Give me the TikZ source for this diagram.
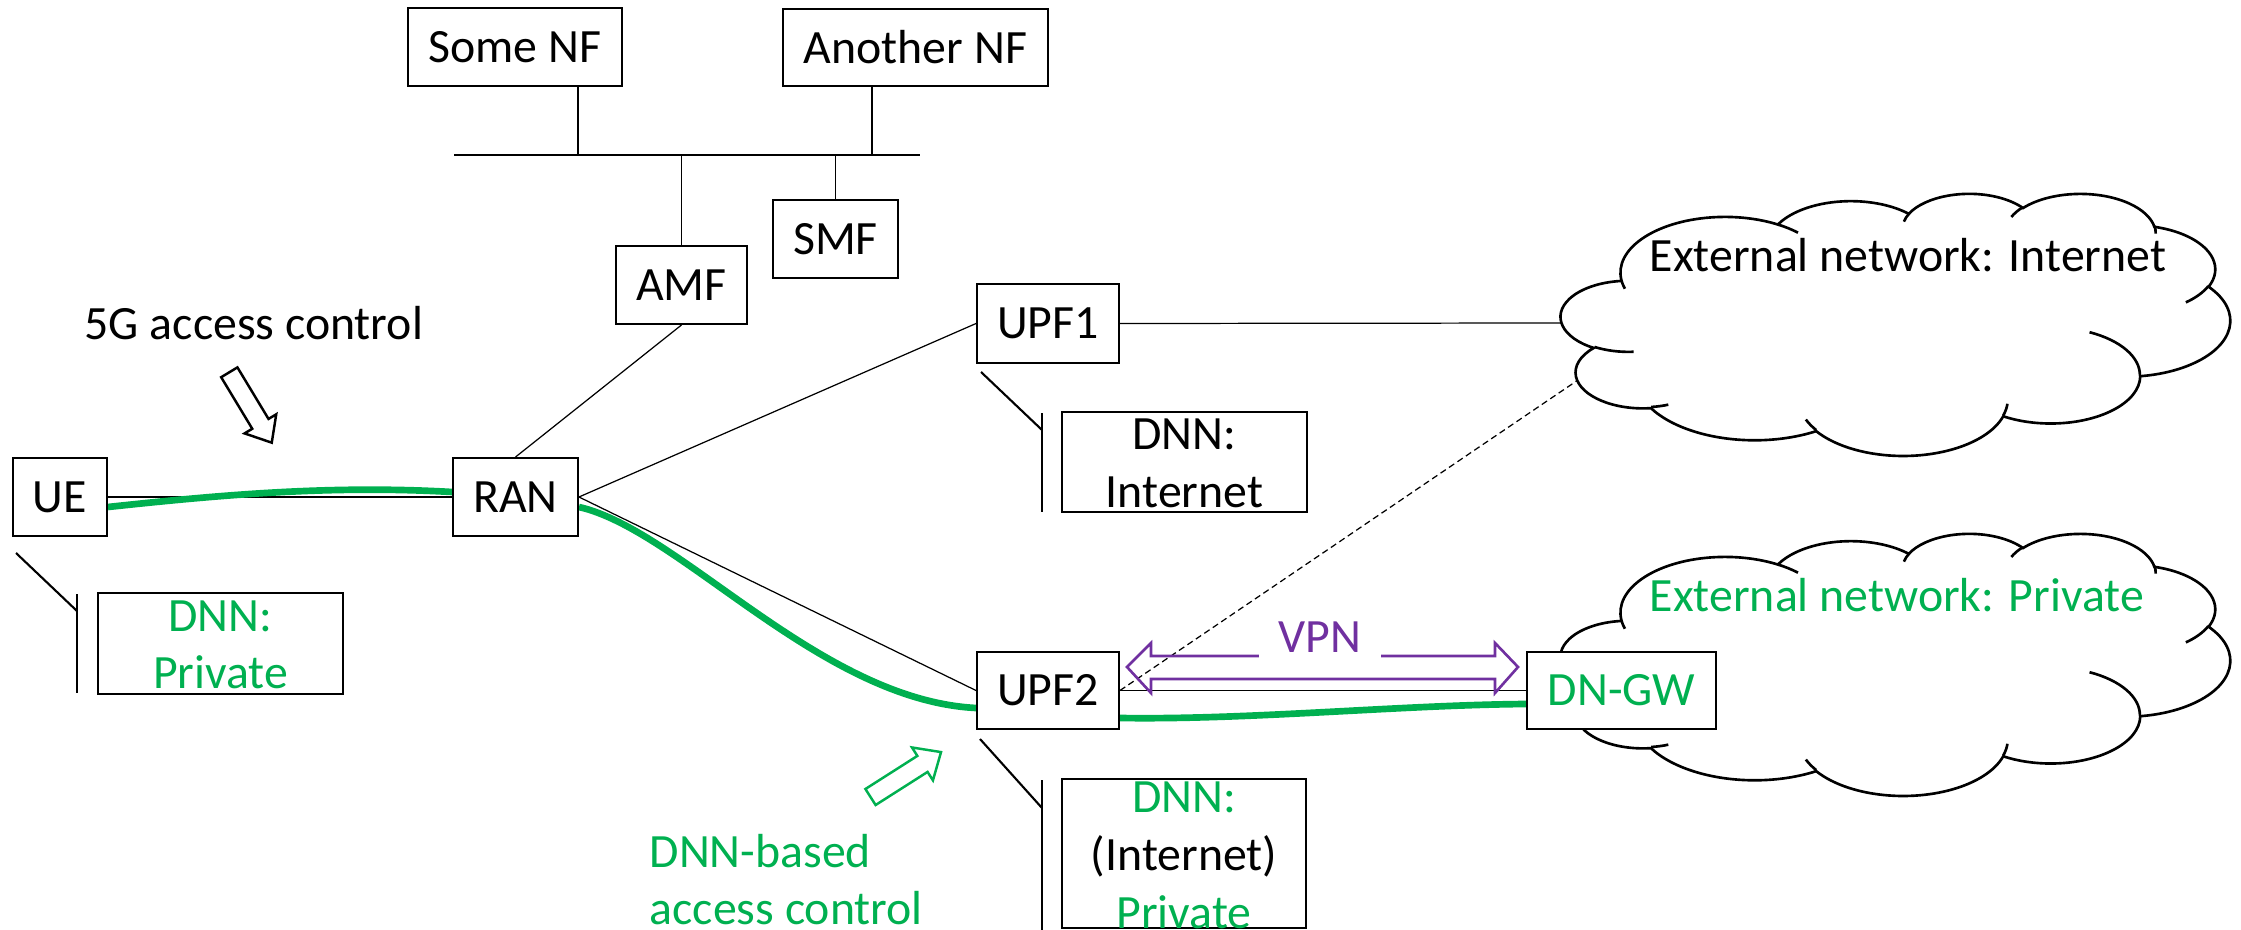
\documentclass[tikz,border=0pt]{standalone}
\usepackage{fontspec}
\setmainfont{Carlito}
\usetikzlibrary{calc}
\definecolor{gr}{HTML}{00B050}
\definecolor{pu}{HTML}{7030A0}
\newcommand\dfont{\fontsize{13.6pt}{16.3pt}\selectfont}
\pgfdeclarelayer{bg}
\pgfsetlayers{bg,main}

\tikzset{
  box/.style={draw, line width=0.55pt, fill=white, inner sep=0pt, minimum height=0.78cm},
  dnnbox/.style={draw, line width=0.75pt, fill=white, inner sep=0pt},
  txt/.style={inner sep=0pt, anchor=base},
  link/.style={line width=0.35pt},
  greenpath/.style={draw=gr, line width=1.9pt},
  antline/.style={line width=0.6pt},
  cloudline/.style={line width=0.75pt},
  blockarrow/.style={line width=0.7pt, fill=white},
}

% Cloud outline: elliptical arcs in a 43.2 x 43.2 frame (y downwards),
% each arc given by radii, visual start angle and sweep.
\newcommand\drawcloud[1]{%
\begin{scope}[shift={#1}, xscale=0.154861, yscale=-0.060648]
  \filldraw[cloudline, fill=white] (3.9,14.37)
    \foreach \w/\h/\s/\d in {6.753/9.190/-190.4875/123.7805,
        5.333/7.267/-144.1024/89.9452, 4.365/5.945/-145.8079/99.7230,
        4.857/6.595/-130.9861/117.2417, 5.333/7.273/-78.7089/109.0269,
        6.775/9.220/-46.2673/130.2690, 5.785/7.867/0.6250/114.0333,
        6.752/9.215/22.4516/115.1726, 7.720/10.543/66.2426/75.7110,
        4.360/5.918/-274.9421/146.7356, 4.345/5.945/-246.8285/152.5189}
    { arc[start angle={atan2(\w*sin(\s),\h*cos(\s))},
          delta angle={mod(atan2(\w*sin(\s+\d),\h*cos(\s+\d))-atan2(\w*sin(\s),\h*cos(\s))+720,360)},
          x radius=\w, y radius=\h] } -- cycle;
  \draw[cloudline]
    \foreach \px/\py/\w/\h/\s/\d in {4.693/26.177/4.345/5.945/86.7420/26.4295,
        6.928/34.899/4.360/5.918/73.6105/11.4475,
        16.478/39.090/6.752/9.215/137.6242/14.0811,
        28.827/34.751/6.752/9.215/6.4533/15.9984,
        34.129/22.954/5.785/7.867/-70.2924/70.9174,
        41.798/15.354/5.333/7.273/30.3180/27.7515,
        38.324/5.426/4.857/6.595/-13.7443/14.8589,
        29.078/3.952/4.857/6.595/-149.1815/18.1954,
        22.141/4.720/4.365/5.945/-163.4943/17.6864,
        14.000/5.192/6.753/9.190/-66.7070/12.3194,
        4.127/15.789/6.753/9.190/-202.4257/11.8600}
    { (\px,\py) arc[start angle={atan2(\w*sin(\s),\h*cos(\s))},
          delta angle={mod(atan2(\w*sin(\s+\d),\h*cos(\s+\d))-atan2(\w*sin(\s),\h*cos(\s))+720,360)},
          x radius=\w, y radius=\h] };
\end{scope}}

\begin{document}
\begin{tikzpicture}[font=\dfont]
\useasboundingbox (0,0) rectangle (22.41,-9.30);

% control plane functions and service bus
\node[box, minimum width=2.14cm] (somenf) at (5.15,-0.47) {Some NF};
\node[box, minimum width=2.65cm, minimum height=0.77cm] (anothernf) at (9.155,-0.475) {Another NF};
\node[box, minimum width=1.31cm] (amf) at (6.815,-2.85) {AMF};
\node[box, minimum width=1.25cm] (smf) at (8.355,-2.39) {SMF};
\coordinate (busL) at (4.54,-1.55);
\coordinate (busR) at (9.20,-1.55);
\coordinate (busA) at (5.78,-1.55);
\coordinate (busB) at (8.72,-1.55);

% user plane
\node[box, minimum width=0.94cm] (ue) at (0.60,-4.97) {UE};
\node[box, minimum width=1.25cm] (ran) at (5.155,-4.97) {RAN};
\node[box, minimum width=1.42cm, minimum height=0.79cm] (upf1) at (10.48,-3.235) {UPF1};
\node[box, minimum width=1.42cm, minimum height=0.77cm] (upf2) at (10.48,-6.905) {UPF2};

% external networks
\drawcloud{(15.61,-1.93)}
\node[txt, anchor=base west] (inettxt) at (16.49,-2.72) {External network: Internet};
\coordinate (c1w) at (15.615,-3.23);
\coordinate (c1sw) at (15.78,-3.80);
\drawcloud{(15.61,-5.33)}
\node[txt, anchor=base west, text=gr] (privtxt) at (16.49,-6.11) {External network: Private};
\node[box, minimum width=1.89cm, minimum height=0.77cm, text=gr] (dngw) at (16.215,-6.905) {DN-GW};

% DNN annotations
\node[dnnbox, minimum width=2.45cm, minimum height=1.01cm] (dnn1) at (2.205,-6.435) {};
\node[txt, text=gr] (dnn1a) at (2.205,-6.31) {DNN:};
\node[txt, text=gr] (dnn1b) at (2.205,-6.88) {Private};
\draw[antline] (0.16,-5.53) -- (0.77,-6.11);
\draw[antline] (0.77,-5.94) -- (0.77,-6.93);

\node[dnnbox, minimum width=2.45cm, minimum height=1.00cm] (dnn2) at (11.845,-4.62) {};
\node[txt] (dnn2a) at (11.845,-4.49) {DNN:};
\node[txt] (dnn2b) at (11.845,-5.07) {Internet};
\draw[antline] (9.81,-3.72) -- (10.42,-4.30);
\draw[antline] (10.42,-4.13) -- (10.42,-5.12);

\node[dnnbox, minimum width=2.44cm, minimum height=1.49cm] (dnn3) at (11.84,-8.535) {};
\node[txt, text=gr] (dnn3a) at (11.84,-8.12) {DNN:};
\node[txt] (dnn3b) at (11.84,-8.70) {(Internet)};
\node[txt, text=gr] (dnn3c) at (11.84,-9.28) {Private};
\draw[antline] (9.80,-7.39) -- (10.42,-8.08);
\draw[antline] (10.42,-7.80) -- (10.42,-9.30);

% connectors
\begin{pgfonlayer}{bg}
\draw[link] (busL) -- (busR);
\draw[link] (somenf.south -| busA) -- (busA);
\draw[link] (anothernf.south -| busB) -- (busB);
\draw[link] (amf.north) -- (amf.north |- busL);
\draw[link] (smf.north) -- (smf.north |- busL);
\draw[link] (ue.east) -- (ran.west);
\draw[link] (amf.south) -- (ran.north);
\draw[link] (ran.east) -- (upf1.west);
\draw[link] (ran.east) -- (upf2.west);
\draw[link] (upf1.east) -- (c1w);
\draw[link] (upf2.east) -- (dngw.west);
\draw[link, dash pattern=on 1.8pt off 1.1pt] (upf2.east) -- (c1sw);
% session path of the private DNN
\draw[greenpath] ($(ue.east)+(0,-0.10)$) .. controls (2.20,-4.95) and (3.30,-4.85) .. ($(ran.west)+(0,0.05)$);
\draw[greenpath] ($(ran.east)+(0,-0.10)$) .. controls (6.80,-5.30) and (8.20,-7.00) .. ($(upf2.west)+(0,-0.175)$);
\draw[greenpath] ($(upf2.east)+(0,-0.275)$) .. controls (12.50,-7.20) and (14.00,-7.05) .. ($(dngw.west)+(0,-0.135)$);
\end{pgfonlayer}

% access control labels with block arrows
\node[txt, anchor=base west] (ac5g) at (0.84,-3.40) {5G access control};
\draw[blockarrow, shift={(2.293,-3.723)}, rotate=-58.9]
  (0,-0.095) -- (0.602,-0.095) -- (0.602,-0.185) -- (0.822,0)
  -- (0.602,0.185) -- (0.602,0.095) -- (0,0.095) -- cycle;
\node[txt, anchor=base west, text=gr] (acdnn1) at (6.49,-8.67) {DNN-based};
\node[txt, anchor=base west, text=gr] (acdnn2) at (6.49,-9.24) {access control};
\draw[blockarrow, draw=gr, shift={(8.705,-7.97)}, rotate=32.5]
  (0,-0.095) -- (0.616,-0.095) -- (0.616,-0.195) -- (0.836,0)
  -- (0.616,0.195) -- (0.616,0.095) -- (0,0.095) -- cycle;

% VPN tunnel between UPF2 and DN-GW
\draw[pu, line width=0.75pt] (11.51,-6.56) -- (14.95,-6.56) -- (14.95,-6.43) -- (15.18,-6.67)
  -- (14.95,-6.93) -- (14.95,-6.79) -- (11.51,-6.79) -- (11.51,-6.93) -- (11.27,-6.67)
  -- (11.51,-6.43) -- cycle;
\node[text=pu, fill=white, inner xsep=0.2cm, inner ysep=0.12cm] (vpn) at (13.20,-6.37) {VPN};
\end{tikzpicture}
\end{document}
